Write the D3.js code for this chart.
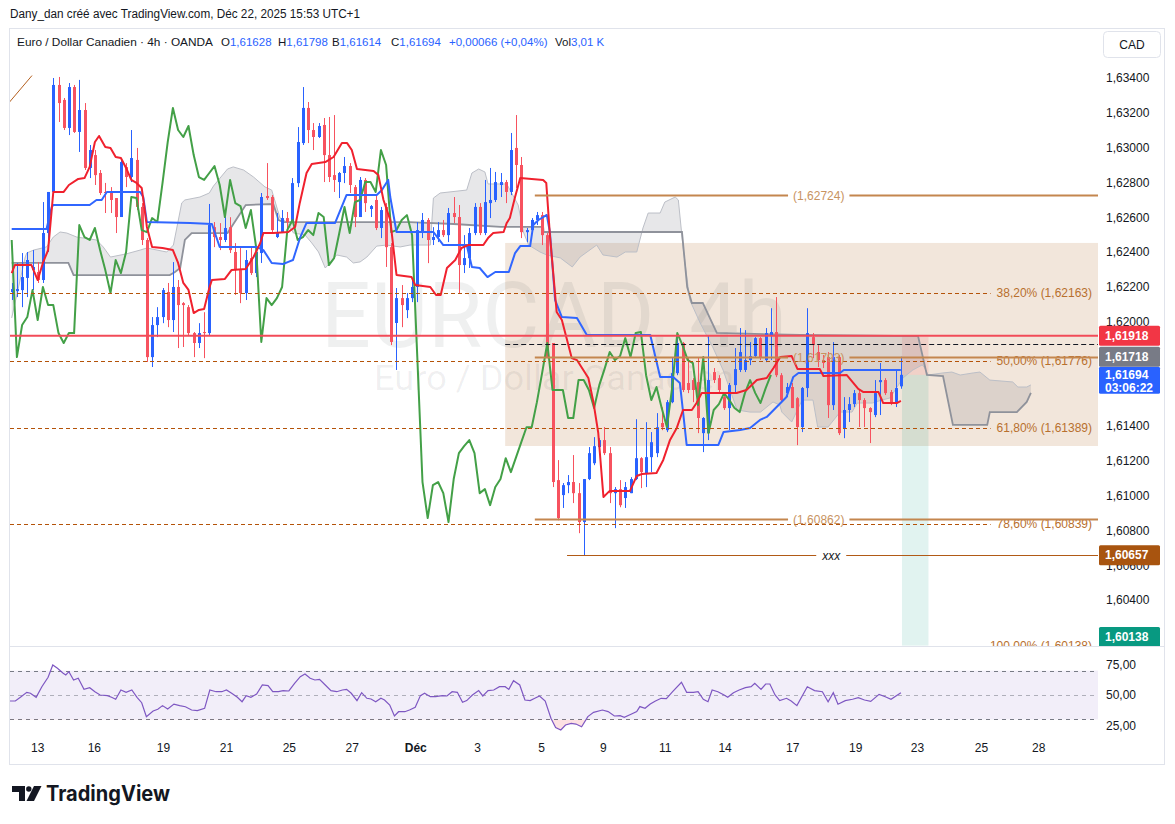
<!DOCTYPE html>
<html>
<head>
<meta charset="utf-8">
<script src="https://cdn.jsdelivr.net/npm/d3@7/dist/d3.min.js"></script>
<style>
  html, body { margin: 0; padding: 0; background: #fff; }
  svg { display: block; font-family: "Liberation Sans", Arial, sans-serif; }
</style>
</head>
<body>
<svg id="chart" width="1175" height="824"></svg>
<script>
// ---- data ----
// 4h candles, [open, high, low, close], bar 0 = 12 Nov evening, bar 171 = 22 Dec
const candles = [
  [1.62170,1.62222,1.62124,1.62187],[1.62175,1.62336,1.62141,1.62187],[1.62181,1.62394,1.62083,1.62256],
  [1.62251,1.62400,1.62141,1.62354],[1.62296,1.62411,1.62181,1.62314],[1.62285,1.62342,1.62222,1.62239],
  [1.62239,1.62687,1.62222,1.62509],[1.62509,1.62745,1.62400,1.62745],[1.62745,1.63400,1.62739,1.63360],
  [1.63360,1.63406,1.63147,1.63256],[1.63274,1.63285,1.63101,1.63113],[1.63113,1.63371,1.63072,1.63348],
  [1.63348,1.63360,1.63084,1.63090],[1.63090,1.63389,1.62975,1.63216],[1.63216,1.63256,1.62871,1.62883],
  [1.62883,1.63015,1.62825,1.62986],[1.62957,1.62986,1.62785,1.62842],[1.62854,1.62871,1.62728,1.62739],
  [1.62745,1.62797,1.62624,1.62739],[1.62739,1.62773,1.62624,1.62699],[1.62710,1.62710,1.62509,1.62601],
  [1.62601,1.62929,1.62601,1.62917],[1.62888,1.62911,1.62773,1.62831],[1.62831,1.63101,1.62802,1.62940],
  [1.62929,1.62998,1.62641,1.62659],[1.62659,1.62681,1.62440,1.62469],[1.62469,1.62480,1.61768,1.61796],
  [1.61796,1.62026,1.61739,1.61980],[1.61980,1.62083,1.61911,1.62026],[1.62026,1.62193,1.61991,1.62181],
  [1.62170,1.62222,1.61968,1.62009],[1.62009,1.62342,1.61940,1.62199],[1.62199,1.62239,1.61848,1.62095],
  [1.62106,1.62112,1.61854,1.62095],[1.62083,1.62095,1.61917,1.61934],[1.61934,1.61940,1.61796,1.61877],
  [1.61877,1.61991,1.61848,1.61934],[1.61940,1.62054,1.61790,1.61934],[1.61934,1.62676,1.61923,1.62555],
  [1.62543,1.62572,1.62428,1.62486],[1.62486,1.62566,1.62411,1.62469],[1.62469,1.62601,1.62457,1.62538],
  [1.62543,1.62600,1.62394,1.62411],[1.62400,1.62451,1.62153,1.62296],[1.62296,1.62428,1.62106,1.62164],
  [1.62164,1.62411,1.62124,1.62354],[1.62365,1.62423,1.62268,1.62279],[1.62279,1.62428,1.62256,1.62400],
  [1.62394,1.62739,1.62337,1.62716],[1.62722,1.62911,1.62699,1.62710],[1.62716,1.62727,1.62514,1.62526],
  [1.62486,1.62624,1.62480,1.62514],[1.62514,1.62641,1.62509,1.62595],[1.62595,1.62630,1.62514,1.62572],
  [1.62572,1.62825,1.62572,1.62796],[1.62796,1.63118,1.62773,1.63032],[1.63026,1.63348,1.63015,1.63228],
  [1.63228,1.63262,1.63026,1.63101],[1.63101,1.63141,1.62986,1.63061],[1.63061,1.63141,1.63055,1.63124],
  [1.63130,1.63170,1.62802,1.62957],[1.62957,1.63176,1.62802,1.62831],[1.62842,1.63187,1.62745,1.62814],
  [1.62802,1.62860,1.62710,1.62854],[1.62854,1.62946,1.62796,1.62894],[1.62894,1.62911,1.62739,1.62785],
  [1.62773,1.62785,1.62543,1.62601],[1.62601,1.62831,1.62601,1.62814],[1.62814,1.62825,1.62630,1.62681],
  [1.62647,1.62670,1.62601,1.62664],[1.62699,1.62727,1.62526,1.62538],[1.62538,1.62659,1.62480,1.62641],
  [1.62659,1.62681,1.62314,1.62428],[1.62428,1.62451,1.61865,1.61883],[1.61992,1.62193,1.61722,1.62135],
  [1.62135,1.62210,1.61968,1.62095],[1.62066,1.62164,1.62020,1.62135],[1.62135,1.62250,1.62112,1.62199],
  [1.62199,1.62572,1.62112,1.62526],[1.62514,1.62624,1.62480,1.62584],[1.62584,1.62595,1.62336,1.62469],
  [1.62469,1.62543,1.62440,1.62486],[1.62486,1.62572,1.62457,1.62526],[1.62526,1.62584,1.62486,1.62497],
  [1.62497,1.62653,1.62457,1.62624],[1.62624,1.62716,1.62566,1.62601],[1.62601,1.62670,1.62164,1.62325],
  [1.62325,1.62497,1.62279,1.62365],[1.62365,1.62538,1.62308,1.62509],[1.62509,1.62681,1.62497,1.62659],
  [1.62659,1.62681,1.62497,1.62509],[1.62509,1.62814,1.62497,1.62687],[1.62681,1.62883,1.62595,1.62699],
  [1.62699,1.62860,1.62687,1.62802],[1.62785,1.62854,1.62716,1.62802],[1.62802,1.62814,1.62681,1.62745],
  [1.62745,1.63084,1.62727,1.62986],[1.62998,1.63187,1.62768,1.62900],[1.62900,1.62946,1.62480,1.62514],
  [1.62514,1.62538,1.62457,1.62526],[1.62526,1.62595,1.62509,1.62584],[1.62584,1.62630,1.62555,1.62612],
  [1.62612,1.62630,1.62440,1.62497],[1.62497,1.62509,1.61790,1.61796],[1.61877,1.61877,1.61049,1.61078],
  [1.61089,1.61204,1.60858,1.60871],[1.61003,1.61072,1.60929,1.61060],[1.61060,1.61118,1.61014,1.61078],
  [1.61078,1.61233,1.60957,1.61014],[1.61014,1.61072,1.60784,1.60848],[1.60848,1.61095,1.60657,1.61095],
  [1.61095,1.61279,1.61089,1.61244],[1.61186,1.61336,1.61175,1.61284],[1.61279,1.61330,1.61233,1.61319],
  [1.61319,1.61394,1.61233,1.61244],[1.61244,1.61279,1.60957,1.61014],[1.61014,1.61049,1.60813,1.61037],
  [1.61037,1.61089,1.60933,1.60945],[1.60986,1.61078,1.60929,1.61049],[1.61014,1.61106,1.61014,1.61095],
  [1.61095,1.61439,1.61089,1.61215],[1.61215,1.61221,1.61043,1.61135],[1.61129,1.61422,1.61049,1.61221],
  [1.61221,1.61365,1.61135,1.61307],[1.61244,1.61474,1.61221,1.61393],[1.61417,1.61508,1.61376,1.61393],
  [1.61376,1.61549,1.61365,1.61537],[1.61537,1.61796,1.61531,1.61704],[1.61704,1.61934,1.61692,1.61877],
  [1.61877,1.61883,1.61595,1.61607],[1.61647,1.61796,1.61589,1.61607],[1.61664,1.61675,1.61537,1.61607],
  [1.61652,1.61796,1.61359,1.61446],[1.61359,1.61451,1.61250,1.61446],[1.61359,1.61922,1.61319,1.61664],
  [1.61710,1.61733,1.61647,1.61664],[1.61675,1.61692,1.61595,1.61607],[1.61566,1.61595,1.61492,1.61503],
  [1.61503,1.61647,1.61377,1.61635],[1.61635,1.61848,1.61595,1.61727],[1.61722,1.61963,1.61710,1.61825],
  [1.61722,1.61951,1.61710,1.61779],[1.61779,1.61882,1.61750,1.61802],[1.61802,1.61911,1.61796,1.61905],
  [1.61905,1.61911,1.61779,1.61796],[1.61779,1.61963,1.61767,1.61934],[1.61923,1.62077,1.61779,1.61940],
  [1.61940,1.62141,1.61681,1.61692],[1.61692,1.61704,1.61537,1.61549],[1.61589,1.61647,1.61566,1.61624],
  [1.61624,1.61647,1.61503,1.61503],[1.61560,1.61566,1.61290,1.61394],[1.61394,1.61624,1.61365,1.61618],
  [1.61618,1.62077,1.61566,1.61934],[1.61911,1.61934,1.61790,1.61865],[1.61825,1.61865,1.61739,1.61779],
  [1.61779,1.61808,1.61733,1.61762],[1.61796,1.61825,1.61446,1.61520],[1.61520,1.61882,1.61492,1.61796],
  [1.61796,1.61808,1.61348,1.61359],[1.61388,1.61566,1.61330,1.61492],[1.61492,1.61566,1.61423,1.61526],
  [1.61526,1.61607,1.61509,1.61589],[1.61589,1.61607,1.61394,1.61549],[1.61549,1.61560,1.61394,1.61503],
  [1.61503,1.61508,1.61302,1.61480],[1.61463,1.61664,1.61451,1.61589],[1.61652,1.61762,1.61463,1.61664],
  [1.61664,1.61675,1.61578,1.61589],[1.61595,1.61607,1.61520,1.61532],[1.61532,1.61722,1.61509,1.61618],
  [1.61628,1.61798,1.61614,1.61694]
];

// ichimoku lines, [bar, price] vertices
const tenkan = [
  [0,1.62279],[0.6,1.62325],[3.8,1.62325],[5,1.62239],[6,1.62337],[7,1.62411],[8,1.62745],[10,1.62745],
  [11,1.62785],[12.8,1.62820],[14,1.62825],[15,1.62889],[16,1.63032],[16.8,1.63067],[18,1.63003],[19,1.62998],
  [20,1.62946],[21,1.62940],[22,1.62883],[23,1.62814],[24,1.62797],[25,1.62768],[25.4,1.62682],[26,1.62544],
  [27,1.62429],[29,1.62423],[31,1.62411],[32,1.62337],[33,1.62222],[34,1.62182],[35,1.62049],[36,1.62067],
  [37,1.62072],[38,1.62193],[38.5,1.62239],[41,1.62245],[42.3,1.62297],[45,1.62302],[46.5,1.62371],
  [47.8,1.62452],[48.4,1.62509],[50.3,1.62509],[53.2,1.62515],[54.5,1.62544],[55.4,1.62682],[56.7,1.62854],
  [57.7,1.62906],[60.3,1.62917],[61.9,1.62946],[63.5,1.63026],[64.5,1.63026],[65.4,1.62986],[66.4,1.62877],
  [69.6,1.62866],[70.5,1.62843],[71.5,1.62699],[72.8,1.62584],[74,1.62268],[76.9,1.62256],[77.6,1.62210],
  [80.5,1.62199],[81.6,1.62153],[82.5,1.62153],[83.7,1.62308],[85.3,1.62354],[86.5,1.62423],[87.8,1.62440],
  [90.7,1.62440],[91.6,1.62480],[92.6,1.62509],[94.6,1.62515],[95.2,1.62567],[95.8,1.62595],[96.8,1.62716],
  [97.8,1.62825],[102.2,1.62814],[102.8,1.62797],[103.5,1.62498],[104.8,1.62055],[105.8,1.62009],
  [107.7,1.61791],[108.7,1.61779],[110.9,1.61676],[111.9,1.61532],[112.8,1.61360],[113.8,1.60992],
  [115,1.61027],[118.9,1.61027],[120.2,1.61113],[121.2,1.61124],[124,1.61130],[125.3,1.61205],
  [126.6,1.61320],[127.9,1.61389],[129.1,1.61492],[130.8,1.61492],[131.7,1.61532],[132.7,1.61590],
  [139.4,1.61590],[141.3,1.61607],[143.3,1.61664],[145.2,1.61676],[146.5,1.61733],[147.8,1.61797],
  [150,1.61802],[151.1,1.61728],[155.4,1.61728],[156.1,1.61687],[160.6,1.61693],[162.8,1.61613],
  [163.8,1.61595],[166.7,1.61595],[167.6,1.61532],[170.2,1.61532],[171,1.61544]
];
const kijun = [
  [0,1.62532],[6.7,1.62532],[7.7,1.62659],[8,1.62670],[15,1.62670],[16.3,1.62699],[17.3,1.62699],
  [18.3,1.62745],[24.7,1.62745],[25.3,1.62716],[26,1.62572],[34.3,1.62567],[38.5,1.62561],[40,1.62429],
  [47.1,1.62429],[48.4,1.62411],[50,1.62337],[52.2,1.62331],[53.2,1.62343],[54.1,1.62354],[55.5,1.62486],
  [56.7,1.62567],[62.2,1.62567],[64.4,1.62728],[70.2,1.62728],[71.2,1.62756],[72.4,1.62814],[72.8,1.62716],
  [74,1.62515],[81.1,1.62515],[83,1.62440],[87.5,1.62440],[88.5,1.62314],[90,1.62308],[91.5,1.62256],
  [93,1.62285],[95.6,1.62285],[96.8,1.62394],[97.8,1.62434],[99.7,1.62434],[100.3,1.62555],[101.3,1.62584],
  [102.9,1.62613],[103.5,1.62515],[104.5,1.62124],[105.8,1.62026],[108.7,1.62021],[110.6,1.61923],
  [122.8,1.61923],[124.7,1.61682],[127.2,1.61682],[128.5,1.61647],[129.8,1.61291],[135.9,1.61291],
  [136.9,1.61366],[140.1,1.61377],[142,1.61389],[143.9,1.61435],[145.2,1.61452],[149,1.61567],
  [150.3,1.61682],[151.3,1.61705],[159.3,1.61705],[160,1.61722],[171,1.61722]
];
const spanA = [
  [0,1.62021],[2.6,1.62371],[2.9,1.62394],[4.2,1.62411],[6.7,1.62429],[8,1.62486],[9.3,1.62515],
  [10.6,1.62509],[12.5,1.62486],[16.3,1.62469],[17.6,1.62429],[19,1.62371],[22,1.62389],[24.7,1.62411],
  [26,1.62423],[29.8,1.62400],[31.1,1.62440],[32.7,1.62682],[33.3,1.62699],[36.2,1.62716],[38,1.62739],
  [38.8,1.62779],[41.5,1.62877],[42.6,1.62889],[44.6,1.62871],[46.5,1.62831],[48.7,1.62774],[50,1.62756],
  [51.6,1.62595],[52.9,1.62572],[54.2,1.62509],[56.4,1.62498],[57.7,1.62452],[59,1.62400],[60.3,1.62308],
  [61.2,1.62337],[62.5,1.62383],[64.4,1.62371],[65.7,1.62337],[67,1.62343],[68.3,1.62371],[70.2,1.62434],
  [72.1,1.62440],[74.7,1.62429],[76.6,1.62440],[80.5,1.62440],[81.1,1.62710],[82.4,1.62739],[87.5,1.62756],
  [88.5,1.62854],[89.8,1.62877],[91,1.62860],[91.6,1.62791],[95.2,1.62791],[97.4,1.62670],[98.4,1.62515],
  [99.4,1.62440],[101.6,1.62400],[102.9,1.62383],[105.5,1.62366],[107.8,1.62314],[109.3,1.62371],
  [112.5,1.62440],[113.7,1.62383],[116.4,1.62371],[118,1.62400],[120.2,1.62400],[121.4,1.62538],
  [122.4,1.62624],[124.7,1.62624],[125.6,1.62687],[127.6,1.62716],[128.2,1.62699],[129.1,1.62429],
  [130.4,1.62124],[132.4,1.61992],[134.9,1.61848],[136.8,1.61722],[139.5,1.61492],[142,1.61480],
  [144,1.61480],[146.4,1.61538],[147.7,1.61521],[148.1,1.61480],[150,1.61423],[152,1.61549],[154.1,1.61549],
  [155,1.61394],[157,1.61394],[159.3,1.61480],[161.6,1.61480],[162.6,1.61532],[165.5,1.61532],
  [167.3,1.61549],[168.9,1.61561],[171.4,1.61676],[173.3,1.61722],[175.1,1.61751],[175.6,1.61733],
  [176.2,1.61693],[179.1,1.61705],[180.8,1.61710],[182.4,1.61693],[184.9,1.61705],[186.2,1.61710],
  [188.1,1.61664],[192.5,1.61653],[193.5,1.61624],[195.2,1.61624],[196,1.61636]
];
const spanB = [
  [0,1.62337],[10.9,1.62337],[11.9,1.62267],[30.4,1.62267],[31.4,1.62285],[32.4,1.62308],[33.3,1.62469],
  [34.6,1.62509],[41.5,1.62509],[45,1.62670],[50.3,1.62676],[51.3,1.62584],[52.3,1.62572],[76.6,1.62572],
  [85,1.62561],[94,1.62544],[102.2,1.62544],[102.3,1.62515],[128.9,1.62515],[129.9,1.62199],[130.8,1.62107],
  [132.9,1.62107],[135.6,1.61935],[151.6,1.61923],[174.3,1.61917],[176,1.61693],[179.1,1.61687],
  [181,1.61406],[187.6,1.61406],[188.1,1.61480],[193.3,1.61480],[195.2,1.61538],[196,1.61590]
];
const lagShift = 25;   // lagging span: close plotted 25 bars back

// RSI(14), [bar, value]
const rsi = [
  [-0.4,45.1],[0.7,45.1],[1.8,48.6],[2.9,52.2],[3.6,51.4],[4.7,48.1],[5.8,56.8],[7.0,64.5],[7.9,74.6],
  [8.8,71.9],[9.9,67.8],[10.4,66.4],[11.0,69.1],[11.9,62.3],[12.8,63.7],[13.9,54.6],[15.0,56.0],[16.0,52.7],
  [17.0,50.0],[18.4,49.5],[19.2,48.1],[20.0,46.5],[21.0,54.1],[22.0,52.2],[23.1,54.1],[24.1,48.1],[25.0,43.7],
  [25.9,32.2],[27.2,36.9],[28.1,38.3],[29.0,41.3],[30.0,38.5],[31.2,42.5],[32.3,41.3],[33.4,40.4],[34.6,37.7],
  [35.7,37.2],[37.1,39.1],[38.1,54.1],[39.3,52.7],[40.4,52.7],[41.3,54.1],[42.3,51.4],[43.4,48.1],[44.3,44.5],
  [45.1,49.5],[46.0,48.1],[47.1,50.8],[48.2,58.2],[49.3,57.7],[50.2,52.7],[51.3,52.7],[52.2,53.6],[53.3,53.3],
  [54.4,59.6],[55.5,65.0],[56.4,67.2],[57.4,63.7],[58.3,62.3],[59.2,62.8],[60.3,58.2],[61.4,53.6],[62.5,52.7],
  [63.6,54.1],[64.4,54.6],[65.3,51.4],[66.4,45.4],[67.3,51.9],[68.3,47.3],[69.1,46.7],[70.0,44.5],[71.0,47.3],
  [71.7,45.9],[72.7,41.8],[73.6,32.8],[74.4,36.3],[75.6,36.3],[76.5,37.7],[77.6,39.9],[78.6,49.5],[79.4,51.4],
  [80.5,48.6],[81.5,48.6],[82.8,49.5],[83.7,49.2],[84.7,52.7],[85.7,52.2],[86.7,44.0],[87.5,45.4],[88.6,50.0],
  [89.8,53.6],[90.6,49.2],[91.6,53.6],[92.7,54.1],[93.8,56.8],[94.9,56.8],[95.6,54.6],[96.5,61.7],[97.7,58.2],
  [98.7,45.9],[99.7,45.4],[100.6,47.3],[101.5,49.2],[102.6,45.1],[103.7,30.9],[104.6,23.3],[105.6,21.3],
  [106.5,25.4],[107.6,26.8],[108.5,26.2],[109.6,24.0],[110.8,32.3],[111.9,35.8],[113.6,37.7],[114.7,36.4],
  [115.9,32.8],[117.0,33.1],[117.8,31.7],[119.1,34.2],[120.2,36.4],[120.8,40.5],[121.8,39.1],[122.8,42.6],
  [123.8,45.1],[124.9,47.3],[125.9,47.0],[127.1,52.7],[128.8,60.4],[129.8,52.2],[131.1,52.2],[132.0,52.7],
  [133.0,46.5],[133.9,44.5],[134.7,54.1],[135.8,52.7],[137.0,50.0],[137.7,48.1],[138.8,51.9],[139.9,54.1],
  [141.1,56.0],[142.2,56.8],[142.9,59.6],[144.1,54.6],[145.0,59.0],[145.8,59.0],[146.8,50.0],[147.7,45.4],
  [149.0,47.3],[149.9,45.1],[151.0,41.3],[153.0,56.8],[154.4,53.6],[155.9,52.7],[157.0,44.5],[158.0,51.9],
  [158.9,42.4],[160.3,45.4],[161.7,46.5],[162.8,47.8],[164.0,45.9],[165.2,44.8],[166.8,50.5],[168.0,48.6],
  [169.1,46.5],[171.0,51.9]
];

// axes (ticks hidden behind the price labels are left out)
const priceTicks = [1.634, 1.632, 1.630, 1.628, 1.626, 1.624, 1.622, 1.620, 1.614, 1.612,
                    1.610, 1.608, 1.606, 1.604];
const rsiTicks = [75, 50, 25];
const rsiLevels = [70, 50, 30];
const dateLabels = ['13','16','19','21','25','27','Déc','3','5','9','11','14','17','19','23','25','28'];
const dateBars = [4.9, 15.8, 29.1, 41.2, 53.3, 65.4, 77.6, 89.5, 101.8, 113.7, 125.6, 137.1, 150.1,
                  162.2, 174.1, 186.4, 197.4];

// drawings
const fibAnchors = [[-89, 1.60138], [3.9, 1.63414]];
const fibRatios = [0.382, 0.5, 0.618, 0.786, 1.0];
const fibPrices = [1.62163, 1.61776, 1.61389, 1.60839, 1.60138];
const bandPrices = [1.62724, 1.61793, 1.60862];      // three solid levels
const bandStartBar = 100.6, bandLabelBar = 155.2;
const zoneBars = [94.9, 215], zonePrices = [1.62452, 1.61285];
const resistance = 1.61918;
const dashedRay = { bar: 94.9, price: 1.61871 };
const xxxLine = { bar: 106.8, labelBar: 157.6, price: 1.60657 };
const shortBars = [171.2, 176.3];
const shortEntry = 1.61694, shortStop = 1.61912, shortTarget = 1.60138;

const header = { open: '1,61628', high: '1,61798', low: '1,61614', close: '1,61694',
                 change: '+0,00066 (+0,04%)', vol: '3,01 K' };

// ---- layout ----
const paneL = 10, paneR = 1098, priceTop = 28, priceBot = 646, rsiTop = 647, rsiBot = 738;
const UP = '#2962ff', DOWN = '#f7525f';

const x = d3.scaleLinear().domain([0, 171]).range([11.7, 900.9]);
const y = d3.scaleLinear().domain([1.604, 1.634]).range([600, 78]);
const ry = d3.scaleLinear().domain([25, 75]).range([725.5, 664.5]);

const locale = d3.formatLocale({ decimal: ',', thousands: '\u00a0', grouping: [3], currency: ['', ''] });
const fmtPrice = locale.format('.5f');
const fmt2 = locale.format('.2f');

const svg = d3.select('#chart');
const defs = svg.append('defs');
defs.append('clipPath').attr('id', 'clipPrice').append('rect')
    .attr('x', paneL).attr('y', priceTop).attr('width', paneR - paneL).attr('height', priceBot - priceTop);
defs.append('clipPath').attr('id', 'clipRsi').append('rect')
    .attr('x', paneL).attr('y', rsiTop).attr('width', paneR - paneL).attr('height', rsiBot - rsiTop);
defs.append('clipPath').attr('id', 'clipOversold').append('rect')
    .attr('x', paneL).attr('y', ry(30)).attr('width', paneR - paneL).attr('height', rsiBot - ry(30));

const line = d3.line().x(d => x(d[0])).y(d => y(d[1]));

// top credit line
svg.append('text').attr('x', 10).attr('y', 18).attr('font-size', 12).attr('fill', '#131722')
    .attr('textLength', 350).attr('lengthAdjust', 'spacingAndGlyphs')
    .text('Dany_dan créé avec TradingView.com, Déc 22, 2025 15:53 UTC+1');

const price = svg.append('g').attr('clip-path', 'url(#clipPrice)');

// rectangle zone
price.append('rect')
    .attr('x', x(zoneBars[0])).attr('width', x(zoneBars[1]) - x(zoneBars[0]))
    .attr('y', y(zonePrices[0])).attr('height', y(zonePrices[1]) - y(zonePrices[0]))
    .attr('fill', 'rgba(190,130,75,0.2)');

// short position zones
price.append('rect')
    .attr('x', x(shortBars[0])).attr('width', x(shortBars[1]) - x(shortBars[0]))
    .attr('y', y(shortStop)).attr('height', y(shortEntry) - y(shortStop))
    .attr('fill', 'rgba(242,54,69,0.12)');
price.append('rect')
    .attr('x', x(shortBars[0])).attr('width', x(shortBars[1]) - x(shortBars[0]))
    .attr('y', y(shortEntry)).attr('height', y(shortTarget) - y(shortEntry))
    .attr('fill', 'rgba(8,153,129,0.12)');

// watermark
const midX = (paneL + paneR) / 2;
price.append('text').attr('x', midX).attr('y', 347).attr('text-anchor', 'middle')
    .attr('font-family', 'Roboto, sans-serif').attr('font-size', 90)
    .attr('textLength', 466).attr('lengthAdjust', 'spacingAndGlyphs')
    .attr('fill', 'rgba(19,23,34,0.065)').text('EURCAD, 4h');
price.append('text').attr('x', midX).attr('y', 390).attr('text-anchor', 'middle')
    .attr('font-family', 'Roboto, sans-serif').attr('font-size', 35)
    .attr('textLength', 360).attr('lengthAdjust', 'spacingAndGlyphs')
    .attr('fill', 'rgba(19,23,34,0.065)').text('Euro / Dollar Canadien');

// ichimoku cloud
const cloudPts = spanA.map(d => [x(d[0]), y(d[1])])
    .concat(spanB.slice().reverse().map(d => [x(d[0]), y(d[1])]));
price.append('path').attr('d', d3.line()(cloudPts) + 'Z')
    .attr('fill', 'rgba(120,123,134,0.18)').attr('stroke', 'none');
price.append('path').attr('d', line(spanA)).attr('fill', 'none')
    .attr('stroke', '#bcbfc7').attr('stroke-width', 1);
price.append('path').attr('d', line(spanB)).attr('fill', 'none')
    .attr('stroke', '#8f929b').attr('stroke-width', 1.8);

// candles
const candleG = price.append('g');
candleG.selectAll('line.wick').data(candles).join('line')
    .attr('x1', (d, i) => Math.round(x(i)) + 0.5).attr('x2', (d, i) => Math.round(x(i)) + 0.5)
    .attr('y1', d => y(d[1])).attr('y2', d => y(d[2]))
    .attr('stroke', d => d[3] >= d[0] ? UP : DOWN).attr('stroke-width', 1);
candleG.selectAll('rect.body').data(candles).join('rect')
    .attr('x', (d, i) => Math.round(x(i)) - 1).attr('width', 3)
    .attr('y', d => y(Math.max(d[0], d[3])))
    .attr('height', d => Math.max(1, Math.abs(y(d[0]) - y(d[3]))))
    .attr('fill', d => d[3] >= d[0] ? UP : DOWN);

// ichimoku lines
const lagging = candles.map((d, i) => [i - lagShift, d[3]]).filter(d => d[0] >= 0);
price.append('path').attr('d', line(lagging)).attr('fill', 'none')
    .attr('stroke', '#43a047').attr('stroke-width', 2).attr('stroke-linejoin', 'round');
price.append('path').attr('d', line(kijun)).attr('fill', 'none')
    .attr('stroke', '#3066ff').attr('stroke-width', 2).attr('stroke-linejoin', 'round');
price.append('path').attr('d', line(tenkan)).attr('fill', 'none')
    .attr('stroke', '#f0212e').attr('stroke-width', 2).attr('stroke-linejoin', 'round');

// fibonacci retracement
price.append('path').attr('d', line(fibAnchors)).attr('fill', 'none')
    .attr('stroke', '#b45f1e').attr('stroke-width', 1);
fibRatios.forEach((r, i) => {
  const py = y(fibPrices[i]);
  const t = price.append('text').attr('x', 1092).attr('y', py).attr('dy', '0.35em')
      .attr('text-anchor', 'end').attr('font-size', 12).attr('fill', '#b8702e')
      .text(`${fmt2(r * 100)}% (${fmtPrice(fibPrices[i])})`);
  const w = t.node().getComputedTextLength();
  price.append('line').attr('x1', paneL).attr('x2', 1092 - w - 6)
      .attr('y1', Math.round(py) + 0.5).attr('y2', Math.round(py) + 0.5)
      .attr('stroke', '#b45309').attr('stroke-width', 1).attr('stroke-dasharray', '4 3');
});

// solid levels with centred labels
bandPrices.forEach(p => {
  const py = y(p), cx = x(bandLabelBar);
  const t = price.append('text').attr('x', cx).attr('y', py).attr('dy', '0.35em')
      .attr('text-anchor', 'middle').attr('font-size', 12).attr('fill', '#c8935f')
      .text(`(${fmtPrice(p)})`);
  const hw = t.node().getComputedTextLength() / 2 + 5;
  price.append('line').attr('x1', x(bandStartBar)).attr('x2', cx - hw).attr('y1', py).attr('y2', py)
      .attr('stroke', '#c4864e').attr('stroke-width', 2);
  price.append('line').attr('x1', cx + hw).attr('x2', paneR).attr('y1', py).attr('y2', py)
      .attr('stroke', '#c4864e').attr('stroke-width', 2);
});

// horizontal resistance and dashed ray
price.append('line').attr('x1', paneL).attr('x2', paneR)
    .attr('y1', y(resistance)).attr('y2', y(resistance))
    .attr('stroke', '#f24b58').attr('stroke-width', 2);
price.append('line').attr('x1', x(dashedRay.bar)).attr('x2', paneR)
    .attr('y1', Math.round(y(dashedRay.price)) + 0.5).attr('y2', Math.round(y(dashedRay.price)) + 0.5)
    .attr('stroke', '#131722').attr('stroke-width', 1).attr('stroke-dasharray', '5 3');

// "xxx" line
{
  const py = Math.round(y(xxxLine.price)) + 0.5, cx = x(xxxLine.labelBar);
  const t = price.append('text').attr('x', cx).attr('y', py).attr('dy', '0.35em')
      .attr('text-anchor', 'middle').attr('font-size', 12).attr('font-style', 'italic')
      .attr('fill', '#131722').text('xxx');
  const hw = t.node().getComputedTextLength() / 2 + 6;
  price.append('line').attr('x1', x(xxxLine.bar)).attr('x2', cx - hw).attr('y1', py).attr('y2', py)
      .attr('stroke', '#b15a16').attr('stroke-width', 1);
  price.append('line').attr('x1', cx + hw).attr('x2', paneR).attr('y1', py).attr('y2', py)
      .attr('stroke', '#b15a16').attr('stroke-width', 1);
}

// ---- RSI pane ----
const rsiG = svg.append('g').attr('clip-path', 'url(#clipRsi)');
rsiG.append('rect').attr('x', paneL).attr('width', paneR - paneL)
    .attr('y', ry(70)).attr('height', ry(30) - ry(70)).attr('fill', 'rgba(126,87,194,0.1)');
rsiLevels.forEach(v => {
  rsiG.append('line').attr('x1', paneL).attr('x2', paneR)
      .attr('y1', Math.round(ry(v)) + 0.5).attr('y2', Math.round(ry(v)) + 0.5)
      .attr('stroke', v === 50 ? 'rgba(120,123,134,0.55)' : '#787b86')
      .attr('stroke-width', 1).attr('stroke-dasharray', '4 4');
});
rsiG.append('path').attr('clip-path', 'url(#clipOversold)')
    .attr('d', d3.area().x(d => x(d[0])).y0(ry(30)).y1(d => ry(d[1]))(rsi))
    .attr('fill', 'rgba(242,54,69,0.15)');
rsiG.append('path')
    .attr('d', d3.line().x(d => x(d[0])).y(d => ry(d[1]))(rsi))
    .attr('fill', 'none').attr('stroke', '#7e57c2').attr('stroke-width', 1.2);

// ---- axes ----
const priceAxis = svg.append('g').attr('transform', `translate(${paneR},0)`)
    .call(d3.axisRight(y).tickValues(priceTicks).tickSize(0).tickPadding(8).tickFormat(fmtPrice));
const rsiAxis = svg.append('g').attr('transform', `translate(${paneR},0)`)
    .call(d3.axisRight(ry).tickValues(rsiTicks).tickSize(0).tickPadding(8).tickFormat(fmt2));
const dateAxis = svg.append('g').attr('transform', `translate(0,${rsiBot})`)
    .call(d3.axisBottom(x).tickValues(dateBars).tickSize(0).tickPadding(5)
          .tickFormat((d, i) => dateLabels[i]));
[priceAxis, rsiAxis, dateAxis].forEach(a => {
  a.select('.domain').remove();
  a.selectAll('text').attr('font-size', 12).attr('fill', '#131722')
      .attr('font-family', '"Liberation Sans", Arial, sans-serif');
});
dateAxis.selectAll('text').filter((d, i) => dateLabels[i] === 'Déc').attr('font-weight', 'bold');

// price labels on the axis
const axisLabels = [
  { price: shortEntry, lines: ['1,61694', '03:06:22'], color: '#2962ff', fixed: true },
  { price: resistance, lines: [fmtPrice(resistance)], color: '#f23645' },
  { price: 1.61718, lines: ['1,61718'], color: '#787b86' },
  { price: xxxLine.price, lines: [fmtPrice(xxxLine.price)], color: '#a8540f' },
  { price: shortTarget, lines: [fmtPrice(shortTarget)], color: '#089981' }
];
const placed = [];
axisLabels.forEach(l => {
  l.h = l.lines.length > 1 ? 27 : 20;
  let top = l.fixed ? y(l.price) - 8 : y(l.price) - l.h / 2;
  top = Math.min(top, priceBot + 1 - l.h);
  placed.forEach(p => {
    if (top < p.top + p.h && top + l.h > p.top) {
      top = y(l.price) < p.top + p.h / 2 ? p.top - l.h : p.top + p.h;
    }
  });
  l.top = top;
  placed.push(l);
});
const lab = svg.append('g');
axisLabels.forEach(l => {
  lab.append('rect').attr('x', paneR + 1).attr('y', l.top).attr('width', 61).attr('height', l.h)
      .attr('rx', 1.5).attr('fill', l.color);
  l.lines.forEach((s, k) => {
    lab.append('text').attr('x', paneR + 7)
        .attr('y', l.lines.length > 1 ? l.top + 8 + k * 12.5 : l.top + l.h / 2)
        .attr('dy', '0.35em').attr('font-size', 12).attr('font-weight', 'bold')
        .attr('fill', '#fff').text(s);
  });
});

// currency box
svg.append('rect').attr('x', 1103.5).attr('y', 31.5).attr('width', 57).attr('height', 26)
    .attr('rx', 4).attr('fill', '#fff').attr('stroke', '#e0e3eb');
svg.append('text').attr('x', 1132).attr('y', 44.5).attr('dy', '0.35em').attr('text-anchor', 'middle')
    .attr('font-size', 12).attr('fill', '#131722').text('CAD');

// legend line: each key followed by its value
const leg = svg.append('text').attr('y', 45.5).attr('font-size', 11.5).attr('fill', '#131722');
leg.append('tspan').attr('x', 17).attr('textLength', 196).attr('lengthAdjust', 'spacingAndGlyphs')
    .text('Euro / Dollar Canadien · 4h · OANDA');
[['O', header.open, 221], ['H', header.high, 278], ['B', header.low, 332], ['C', header.close, 391]]
  .forEach(([k, v, kx]) => {
    leg.append('tspan').attr('x', kx).text(k);
    leg.append('tspan').attr('fill', '#2962ff').text(v);
  });
leg.append('tspan').attr('x', 449).attr('fill', '#2962ff').text(header.change);
leg.append('tspan').attr('x', 555).text('Vol');
leg.append('tspan').attr('fill', '#2962ff').text(header.vol);

// pane separator and frame
svg.append('line').attr('x1', paneL).attr('x2', 1165).attr('y1', priceBot + 0.5).attr('y2', priceBot + 0.5)
    .attr('stroke', '#e0e3eb');
svg.append('rect').attr('x', 9.5).attr('y', 28.5).attr('width', 1155).attr('height', 736)
    .attr('fill', 'none').attr('stroke', '#e0e3eb');

// TradingView logo
const logo = svg.append('g').attr('fill', '#131722');
logo.append('path').attr('d', 'M12,786H25V801H19V792H12Z');
logo.append('circle').attr('cx', 28.8).attr('cy', 789).attr('r', 2.7);
logo.append('path').attr('d', 'M34,786H41.5L34,801H26.5Z');
svg.append('text').attr('x', 46).attr('y', 801).attr('font-family', 'Inter, Roboto, sans-serif')
    .attr('font-weight', 'bold').attr('font-size', 21).attr('fill', '#131722')
    .attr('textLength', 124).attr('lengthAdjust', 'spacingAndGlyphs').text('TradingView');
</script>
</body>
</html>
